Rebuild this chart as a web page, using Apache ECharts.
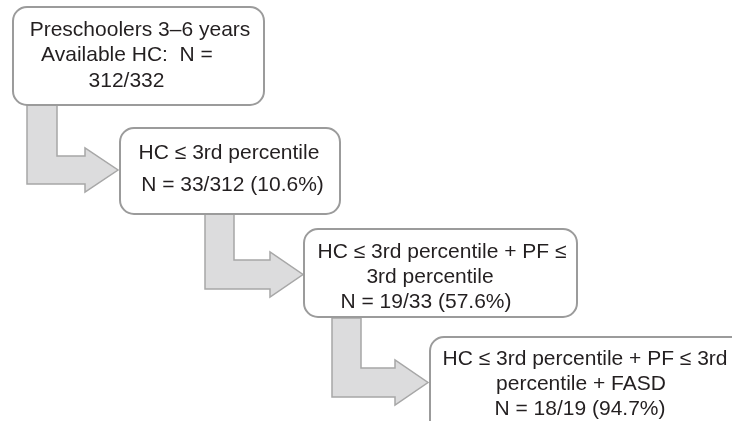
<!DOCTYPE html>
<html>
<head>
<meta charset="utf-8">
<script src="https://cdn.jsdelivr.net/npm/echarts@6/dist/echarts.min.js"></script>
<style>html,body{margin:0;padding:0;background:#fff}#c{width:732px;height:421px}</style>
</head>
<body>
<div id="c"></div>
<script>
// ---- data (text of each flowchart stage) ----
const stageTitles = [
  ['Preschoolers 3–6 years', 'Available HC:  N ='],
  ['HC ≤ 3rd percentile'],
  ['HC ≤ 3rd percentile + PF ≤', '3rd percentile'],
  ['HC ≤ 3rd percentile + PF ≤ 3rd', 'percentile + FASD']
];
const nCounts = [312, 33, 19, 18];
const nTotals = [332, 312, 33, 19];
const percents = ['', '10.6', '57.6', '94.7'];

// ---- layout (positions / sizes) ----
const boxes = [
  {x: 13, y: 7, w: 251, h: 98},
  {x: 120, y: 128, w: 220, h: 86},
  {x: 304, y: 229, w: 273, h: 88},
  {x: 430, y: 337, w: 340, h: 120}
];
const lineX = [[140, 127, 126.5], [229, 232.5], [442, 430, 426], [585, 581, 580]];
const lineY = [[30, 55.5, 81], [153, 185.5], [252, 277.5, 302], [359.5, 384.5, 409.5]];
const arrows = [
  {sx1: 27, sx2: 57, top: 105, hy1: 156, hy2: 184, hx: 85, hh1: 148, hh2: 192, tx: 118},
  {sx1: 205, sx2: 234, top: 214, hy1: 260, hy2: 289, hx: 270, hh1: 252, hh2: 297, tx: 303},
  {sx1: 332, sx2: 361, top: 318, hy1: 368, hy2: 397, hx: 395, hh1: 360, hh2: 405, tx: 428}
];

const FONT = '21px "Liberation Sans", Arial, sans-serif';
const TEXT_COLOR = '#231f20';

function nLine(i) {
  const frac = nCounts[i] + '/' + nTotals[i];
  return percents[i] ? 'N = ' + frac + ' (' + percents[i] + '%)' : frac;
}

const elements = [];
arrows.forEach(a => {
  const cy = (a.hy1 + a.hy2) / 2;
  elements.push({
    type: 'polygon',
    shape: {points: [
      [a.sx1, a.top], [a.sx2, a.top], [a.sx2, a.hy1], [a.hx, a.hy1], [a.hx, a.hh1],
      [a.tx, cy], [a.hx, a.hh2], [a.hx, a.hy2], [a.sx1, a.hy2]
    ]},
    style: {fill: '#dcdcdd', stroke: '#a7a7a7', lineWidth: 1.5},
    z: 1
  });
});
boxes.forEach((b, i) => {
  elements.push({
    type: 'rect',
    shape: {x: b.x, y: b.y, width: b.w, height: b.h, r: 14},
    style: {fill: '#ffffff', stroke: '#9b9b9b', lineWidth: 2},
    z: 2
  });
  const lines = stageTitles[i].concat([nLine(i)]);
  lines.forEach((t, j) => {
    elements.push({
      type: 'text',
      x: lineX[i][j], y: lineY[i][j],
      style: {text: t, font: FONT, fill: TEXT_COLOR, align: 'center', verticalAlign: 'middle',
              textAlign: 'center', textVerticalAlign: 'middle'},
      z: 3
    });
  });
});

const chart = echarts.init(document.getElementById('c'), null, {renderer: 'canvas'});
chart.setOption({
  backgroundColor: '#ffffff',
  animation: false,
  graphic: {elements: elements}
});
</script>
</body>
</html>
